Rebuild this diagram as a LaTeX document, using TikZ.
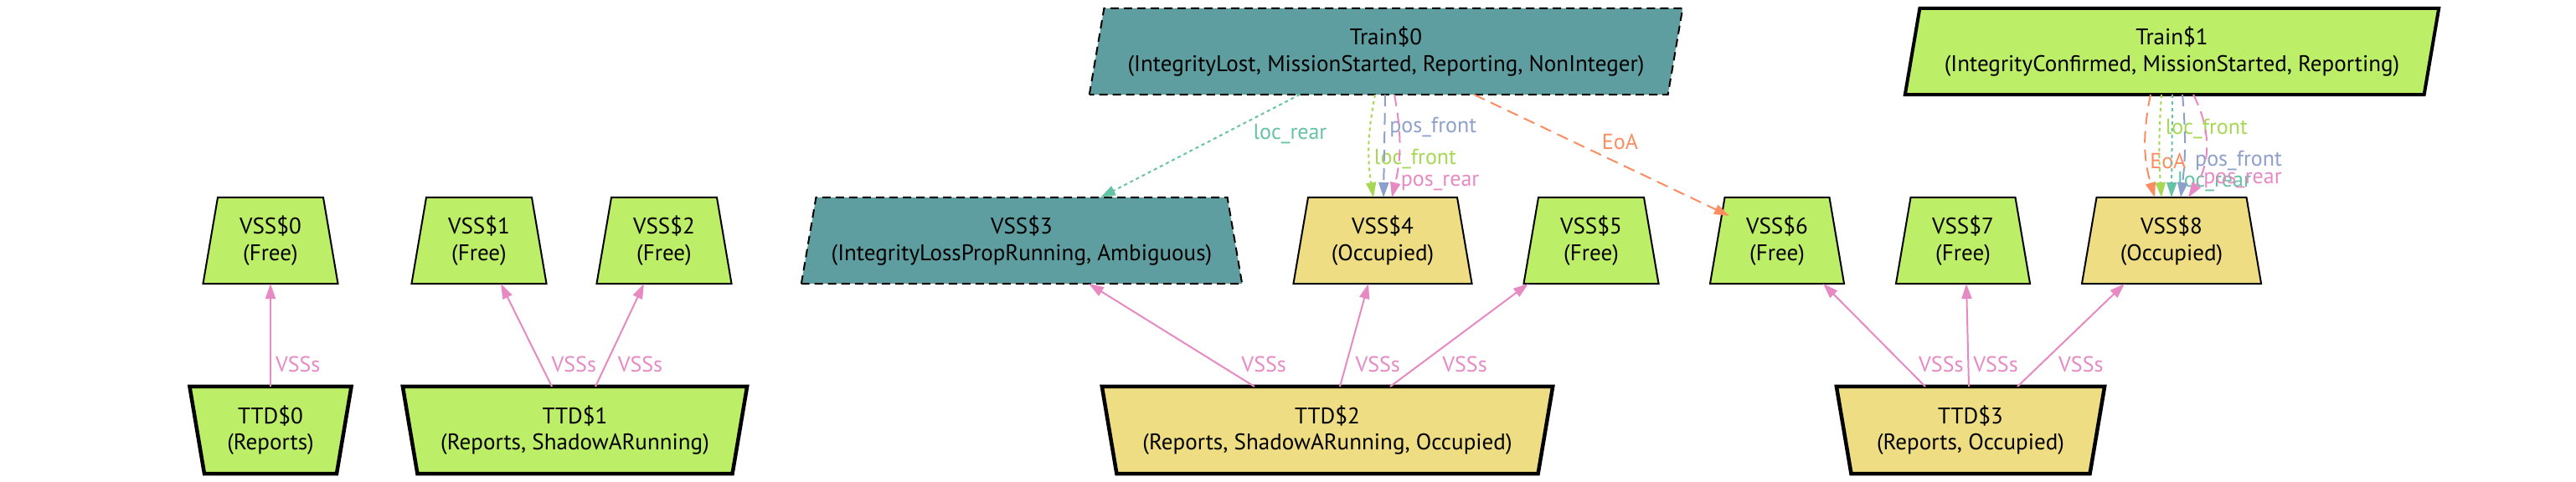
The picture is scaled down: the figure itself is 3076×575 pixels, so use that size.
\documentclass[tikz,border=0pt]{standalone}
\usepackage{fontspec}
\setmainfont{PT Sans}
\usetikzlibrary{shapes.geometric,arrows.meta,positioning}
\definecolor{freegreen}{HTML}{BCEE68}
\definecolor{occyellow}{HTML}{EEDD82}
\definecolor{lostteal}{HTML}{5F9EA0}
\definecolor{setteal}{HTML}{66C2A5}
\definecolor{setorange}{HTML}{FC8D62}
\definecolor{setblue}{HTML}{8DA0CB}
\definecolor{setpink}{HTML}{E78AC3}
\definecolor{setgreen}{HTML}{A6D854}
\tikzset{
  block/.style={trapezium,trapezium angle=73.5,trapezium stretches body,minimum height=1.03cm,
    inner sep=0pt,outer sep=0pt,draw,line width=0.02cm,align=center,font=\fontsize{7.7}{9}\selectfont},
  vssbox/.style={block},
  ttdbox/.style={block,shape border rotate=180,line width=0.045cm,minimum height=1.04cm},
  trainbox/.style={block,trapezium left angle=73.5,trapezium right angle=106.5},
  lost/.style={fill=lostteal,dash pattern=on 0.1cm off 0.06cm},
  link/.style={line width=0.02cm,-{Triangle[length=0.18cm,width=0.12cm]}},
  vsslink/.style={link,setpink},
  dotline/.style={dash pattern=on 0.04cm off 0.04cm},
  dashline/.style={dash pattern=on 0.14cm off 0.08cm},
  lbl/.style={inner sep=0pt,anchor=west,font=\fontsize{7.4}{8.8}\selectfont}
}
\begin{document}
\begin{tikzpicture}[x=0.01cm,y=0.01cm]
  \useasboundingbox (0,0) rectangle (3076,575);
  % trains
  \node[trainbox,lost,minimum width=7.08cm] (train0) at (1655,513.5)
    {Train\$0\\(IntegrityLost, MissionStarted, Reporting, NonInteger)};
  \node[trainbox,fill=freegreen,line width=0.04cm,minimum width=6.37cm] (train1) at (2593.5,513.5)
    {Train\$1\\(IntegrityConfirmed, MissionStarted, Reporting)};
  % sections
  \foreach \n/\x/\w/\c/\t in {0/323/1.61/freegreen/Free,1/572/1.61/freegreen/Free,2/793/1.61/freegreen/Free,
      4/1651/2.13/occyellow/Occupied,5/1900/1.61/freegreen/Free,6/2122/1.60/freegreen/Free,
      7/2344/1.60/freegreen/Free,8/2593/2.14/occyellow/Occupied}
    \node[vssbox,fill=\c,minimum width=\w cm] (v\n) at (\x,287.5) {VSS\$\n\\(\t)};
  \node[vssbox,lost,minimum width=5.26cm] (v3) at (1220,287.5) {VSS\$3\\(IntegrityLossPropRunning, Ambiguous)};
  % track detection
  \node[ttdbox,fill=freegreen,minimum width=1.93cm] (t0) at (323,61) {TTD\$0\\(Reports)};
  \node[ttdbox,fill=freegreen,minimum width=4.11cm] (t1) at (686.5,61) {TTD\$1\\(Reports, ShadowARunning)};
  \node[ttdbox,fill=occyellow,minimum width=5.38cm] (t2) at (1585,61) {TTD\$2\\(Reports, ShadowARunning, Occupied)};
  \node[ttdbox,fill=occyellow,minimum width=3.20cm] (t3) at (2353,61) {TTD\$3\\(Reports, Occupied)};
  % VSSs links
  \foreach \s/\e/\a/\b/\o in {t0/v0/0/0/0.05,t1/v1/-27.5/26/0.12,t1/v2/24.5/-24/0.13,
      t2/v3/-87/80/0.27,t2/v4/15/-17/0.10,t2/v5/75/-75/0.25,
      t3/v6/-54/55/0.18,t3/v7/-2/4/0.05,t3/v8/56/-56/0.20}
    \draw[vsslink] ([shift={(\a,52)}]\s.center) -- ([shift={(\b,-51.5)}]\e.center)
      node[lbl,pos=.22,right=\o cm,setpink] {VSSs};
  % Train$0
  \draw[link,setteal,dotline] ([shift={(-103,-51.5)}]train0.center) -- ([shift={(94,51.5)}]v3.center)
    node[lbl,pos=.38,right=0.34cm] {loc\_rear};
  \draw[link,setgreen,dotline] ([shift={(-13,-51.5)}]train0.center) to[bend right=10]
    node[lbl,pos=.64,right=0.05cm] {loc\_front} ([shift={(-11,51.5)}]v4.center);
  \draw[link,setblue,dashline] ([shift={(-1,-51.5)}]train0.center) --
    node[lbl,pos=.32,right=0.05cm] {pos\_front} ([shift={(1,51.5)}]v4.center);
  \draw[link,setpink,dashline] ([shift={(10,-51.5)}]train0.center) to[bend left=12]
    node[lbl,pos=.87,right=0.06cm] {pos\_rear} ([shift={(11,51.5)}]v4.center);
  \draw[link,setorange,dashline] ([shift={(105,-51.5)}]train0.center) --
    node[lbl,pos=.39,right=0.33cm] {EoA} ([shift={(-57,29.5)}]v6.center);
  % Train$1
  \draw[link,setorange,dashline] ([shift={(-25.5,-51.5)}]train1.center) to[bend right=14]
    node[lbl,pos=.65,right=0.03cm] {EoA} ([shift={(-20,51.5)}]v8.center);
  \draw[link,setgreen,dotline] ([shift={(-12.5,-51.5)}]train1.center) to[bend right=4]
    node[lbl,pos=.32,right=0.06cm] {loc\_front} ([shift={(-12,51.5)}]v8.center);
  \draw[link,setteal,dotline] ([shift={(0.5,-51.5)}]train1.center) --
    node[lbl,pos=.85,right=0.06cm] {loc\_rear} ([shift={(0,51.5)}]v8.center);
  \draw[link,setblue,dashline] ([shift={(12.5,-51.5)}]train1.center) to[bend left=6]
    node[lbl,pos=.65,right=0.12cm] {pos\_front} ([shift={(11,51.5)}]v8.center);
  \draw[link,setpink,dashline] ([shift={(25.5,-51.5)}]train1.center) to[bend left=30]
    node[lbl,pos=.83,right=0.06cm] {pos\_rear} ([shift={(20,51.5)}]v8.center);
\end{tikzpicture}
\end{document}
